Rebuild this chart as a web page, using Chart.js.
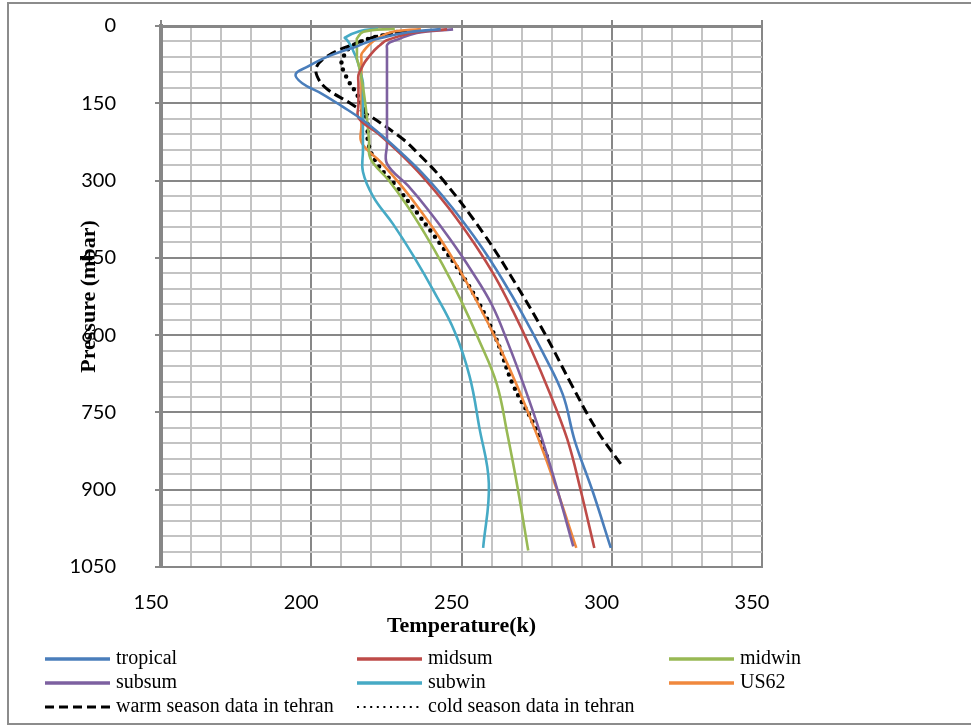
<!DOCTYPE html>
<html>
<head>
<meta charset="utf-8">
<script src="https://cdn.jsdelivr.net/npm/chart.js@4.4.0/dist/chart.umd.min.js"></script>
<style>
  html, body { margin: 0; padding: 0; background: #fff; }
  #wrap { width: 971px; height: 726px; }
</style>
</head>
<body>
<div id="wrap"><canvas id="chart" width="971" height="726"></canvas></div>
<script>
// pressure levels (mbar) and temperatures (K)
const tropicalP = [1013, 904, 805, 715, 633, 559, 492, 432, 378, 329, 286, 247, 213, 182, 156, 132, 111, 93.7, 78.9, 66.6, 56.5, 48.0, 40.9, 35.0, 30.0, 25.7, 12.2, 6.0];
const tropicalT = [299.7, 293.7, 287.7, 283.7, 277.0, 270.3, 263.6, 257.0, 250.3, 243.6, 237.0, 230.1, 223.6, 217.0, 210.3, 203.7, 197.0, 194.8, 198.8, 202.7, 206.7, 210.7, 214.6, 217.0, 219.2, 221.4, 232.3, 243.1];

const midsumP = [1013, 902, 802, 710, 628, 554, 487, 426, 372, 324, 281, 243, 209, 179, 153, 130, 111, 95.0, 81.2, 69.5, 59.5, 51.0, 43.7, 37.6, 32.2, 27.7, 13.2, 6.52];
const midsumT = [294.2, 289.7, 285.2, 279.2, 273.2, 267.2, 261.2, 254.7, 248.2, 241.7, 235.3, 228.8, 222.3, 215.8, 215.7, 215.7, 215.7, 215.7, 216.8, 217.9, 219.2, 220.4, 221.6, 222.8, 223.9, 225.1, 233.7, 245.2];

const midwinP = [1018, 897, 790, 694, 608, 531, 463, 402, 347, 299, 257, 220, 188, 161, 138, 118, 101, 86.1, 73.5, 62.8, 53.7, 45.8, 39.1, 33.4, 28.6, 24.3, 11.1, 5.18];
const midwinT = [272.2, 268.7, 265.2, 261.7, 255.7, 249.7, 243.7, 237.7, 231.7, 225.7, 219.7, 219.2, 218.7, 218.2, 217.7, 217.2, 216.7, 216.2, 215.7, 215.2, 215.2, 215.2, 215.2, 215.2, 215.2, 215.2, 217.4, 227.8];

const subsumP = [1010, 896, 792, 700, 616, 541, 473, 413, 359, 310, 267, 230, 198, 170, 146, 125, 108, 92.8, 79.8, 68.6, 58.9, 50.7, 43.6, 37.5, 32.3, 27.8, 13.4, 6.61];
const subsumT = [287.2, 281.7, 276.3, 270.9, 265.5, 260.1, 253.1, 246.1, 239.2, 232.2, 225.2, 225.2, 225.2, 225.2, 225.2, 225.2, 225.2, 225.2, 225.2, 225.2, 225.2, 225.2, 225.2, 225.2, 226.0, 228.0, 235.1, 247.2];

const subwinP = [1013, 888, 778, 680, 593, 516, 447, 385, 331, 283, 242, 207, 177, 151, 129, 110, 94.3, 80.6, 68.8, 58.8, 50.1, 42.8, 36.5, 31.1, 26.5, 22.6, 10.2, 4.7];
const subwinT = [257.2, 259.1, 255.9, 252.7, 247.7, 240.9, 234.1, 227.3, 220.6, 217.2, 217.2, 217.2, 217.2, 217.2, 217.2, 217.2, 216.6, 216.0, 215.4, 214.8, 214.1, 213.6, 213.0, 212.4, 211.8, 211.2, 216.0, 222.2];

const us62P = [1013, 899, 795, 701, 617, 541, 472, 411, 357, 308, 265, 227, 194, 166, 142, 121, 104, 88.5, 75.7, 64.7, 55.3, 47.3, 40.5, 34.7, 29.7, 25.5, 12.0, 5.75];
const us62T = [288.2, 281.7, 275.2, 268.7, 262.2, 255.7, 249.2, 242.7, 236.2, 229.7, 223.3, 216.8, 216.7, 216.7, 216.7, 216.7, 216.7, 216.7, 216.7, 216.7, 216.7, 217.6, 218.6, 219.6, 220.6, 221.6, 226.5, 236.5];

const warmP = [850, 784, 697, 600, 500, 400, 300, 250, 215, 150, 121, 98, 79, 60, 40, 20, 8];
const warmT = [303.0, 295.0, 286.7, 278.0, 268.0, 257.0, 244.0, 236.0, 229.5, 213.0, 205.0, 202.0, 201.8, 205.0, 212.0, 222.0, 233.0];

const coldP = [835, 771, 697, 600, 500, 400, 312, 266, 228, 182, 137, 105, 92, 72, 37, 11];
const coldT = [278.4, 273.9, 267.2, 261.0, 252.0, 240.0, 228.4, 221.8, 219.0, 218.5, 215.6, 212.2, 211.2, 210.0, 214.0, 229.0];

const seriesNames = ['tropical', 'midsum', 'midwin', 'subsum', 'subwin', 'US62',
  'warm season data in tehran', 'cold season data in tehran'];
const seriesColors = ['#4A7EBB', '#BE4B48', '#98B954', '#7D60A0', '#46AAC5', '#F0883D', '#000000', '#000000'];

const xTicksMajor = 50;   // labelled every 50 K
const yTicksMajor = 150;  // labelled every 150 mbar

const pairs = (ts, ps) => ts.map((t, i) => ({ x: t, y: ps[i] }));
const seriesData = [
  pairs(tropicalT, tropicalP), pairs(midsumT, midsumP), pairs(midwinT, midwinP),
  pairs(subsumT, subsumP), pairs(subwinT, subwinP), pairs(us62T, us62P),
  pairs(warmT, warmP), pairs(coldT, coldP)
];

const MAJOR = '#878787';
const MINOR = '#c3c3c3';

const datasets = seriesData.map((d, i) => {
  const ds = {
    label: seriesNames[i],
    data: d,
    showLine: true,
    borderColor: seriesColors[i],
    backgroundColor: seriesColors[i],
    borderWidth: 2.6,
    pointRadius: 0,
    tension: 0.4,
    fill: false
  };
  if (i === 6) { ds.borderDash = [10, 5]; ds.borderWidth = 3; }
  if (i === 7) { ds.borderDash = [0, 7.5]; ds.borderWidth = 4.5; ds.borderCapStyle = 'round'; }
  return ds;
});

// legend + outer frame drawn at fixed spots like the original sheet
const legendCols = [45, 357, 669];
const legendRows = [659, 683, 707];
const sheetDecor = {
  id: 'sheetDecor',
  afterDraw(chart) {
    const ctx = chart.ctx;
    ctx.save();
    ctx.strokeStyle = '#8c8c8c';
    ctx.lineWidth = 2;
    ctx.strokeRect(8, 3, 980, 721);

    ctx.font = '20px "Liberation Serif", "Times New Roman", serif';
    ctx.textBaseline = 'middle';
    ctx.fillStyle = '#000';
    chart.data.datasets.forEach((ds, i) => {
      const x = legendCols[i % 3];
      const y = legendRows[Math.floor(i / 3)];
      ctx.beginPath();
      ctx.strokeStyle = ds.borderColor;
      ctx.lineCap = 'butt';
      if (i === 6) { ctx.setLineDash([9, 5]); ctx.lineWidth = 3; }
      else if (i === 7) { ctx.setLineDash([2, 4.6]); ctx.lineWidth = 2; }
      else { ctx.setLineDash([]); ctx.lineWidth = 3.5; }
      ctx.moveTo(x, y);
      ctx.lineTo(x + 65, y);
      ctx.stroke();
      ctx.setLineDash([]);
      ctx.fillText(ds.label, x + 71, y);
    });
    ctx.restore();
  }
};

const tickFont = { family: 'Lato, "Open Sans", sans-serif', size: 20 };
const titleFont = { family: '"Liberation Serif", "Times New Roman", serif', size: 22, weight: 'bold' };

new Chart(document.getElementById('chart'), {
  type: 'scatter',
  data: { datasets: datasets },
  options: {
    responsive: false,
    animation: false,
    layout: { padding: { left: 0, top: 20, right: 209, bottom: 79 } },
    plugins: {
      legend: { display: false },
      tooltip: { enabled: false }
    },
    scales: {
      x: {
        type: 'linear',
        position: 'bottom',
        min: 150, max: 350,
        afterFit: (s) => { s.height = 80; },
        grid: {
          color: (c) => (c.tick && c.tick.value % xTicksMajor === 0) ? MAJOR : MINOR,
          lineWidth: 2,
          drawTicks: false
        },
        border: { color: MAJOR, width: 2 },
        ticks: {
          stepSize: 10,
          autoSkip: false,
          maxRotation: 0,
          padding: 24,
          labelOffset: -10,
          color: '#000',
          font: tickFont,
          callback: (v) => (v % xTicksMajor === 0 ? String(v) : '')
        },
        title: {
          display: true,
          text: 'Temperature(k)',
          color: '#000',
          font: titleFont,
          padding: { top: 0, bottom: 7 }
        }
      },
      x2: {
        type: 'linear',
        position: 'top',
        min: 150, max: 350,
        afterFit: (s) => { s.height = 6; s.paddingLeft = 0; s.paddingRight = 0; },
        grid: {
          drawOnChartArea: false,
          tickLength: 6,
          lineWidth: 2,
          tickColor: (c) => (c.tick && c.tick.value % xTicksMajor === 0) ? MAJOR : 'rgba(0,0,0,0)'
        },
        border: { color: MAJOR, width: 3 },
        ticks: { display: false, stepSize: 10, autoSkip: false }
      },
      y: {
        type: 'linear',
        position: 'left',
        reverse: true,
        min: 0, max: 1050,
        // keep the plot top fixed: the big label gap must not push the area down
        afterFit: (s) => { s.width = 161; s.paddingTop = 0; s.paddingBottom = 0; },
        grid: {
          color: (c) => (c.tick && c.tick.value % yTicksMajor === 0) ? MAJOR : MINOR,
          lineWidth: 2,
          tickLength: 6,
          tickColor: (c) => (c.tick && c.tick.value % yTicksMajor === 0) ? MAJOR : 'rgba(0,0,0,0)'
        },
        border: { color: MAJOR, width: 4 },
        ticks: {
          stepSize: 30,
          autoSkip: false,
          padding: 39,
          color: '#000',
          font: tickFont,
          callback: (v) => (v % yTicksMajor === 0 ? String(v) : '')
        },
        title: {
          display: true,
          text: 'Pressure (mbar)',
          color: '#000',
          font: titleFont,
          padding: { top: 76, bottom: 0 }
        }
      }
    }
  },
  plugins: [sheetDecor]
});
</script>
</body>
</html>
